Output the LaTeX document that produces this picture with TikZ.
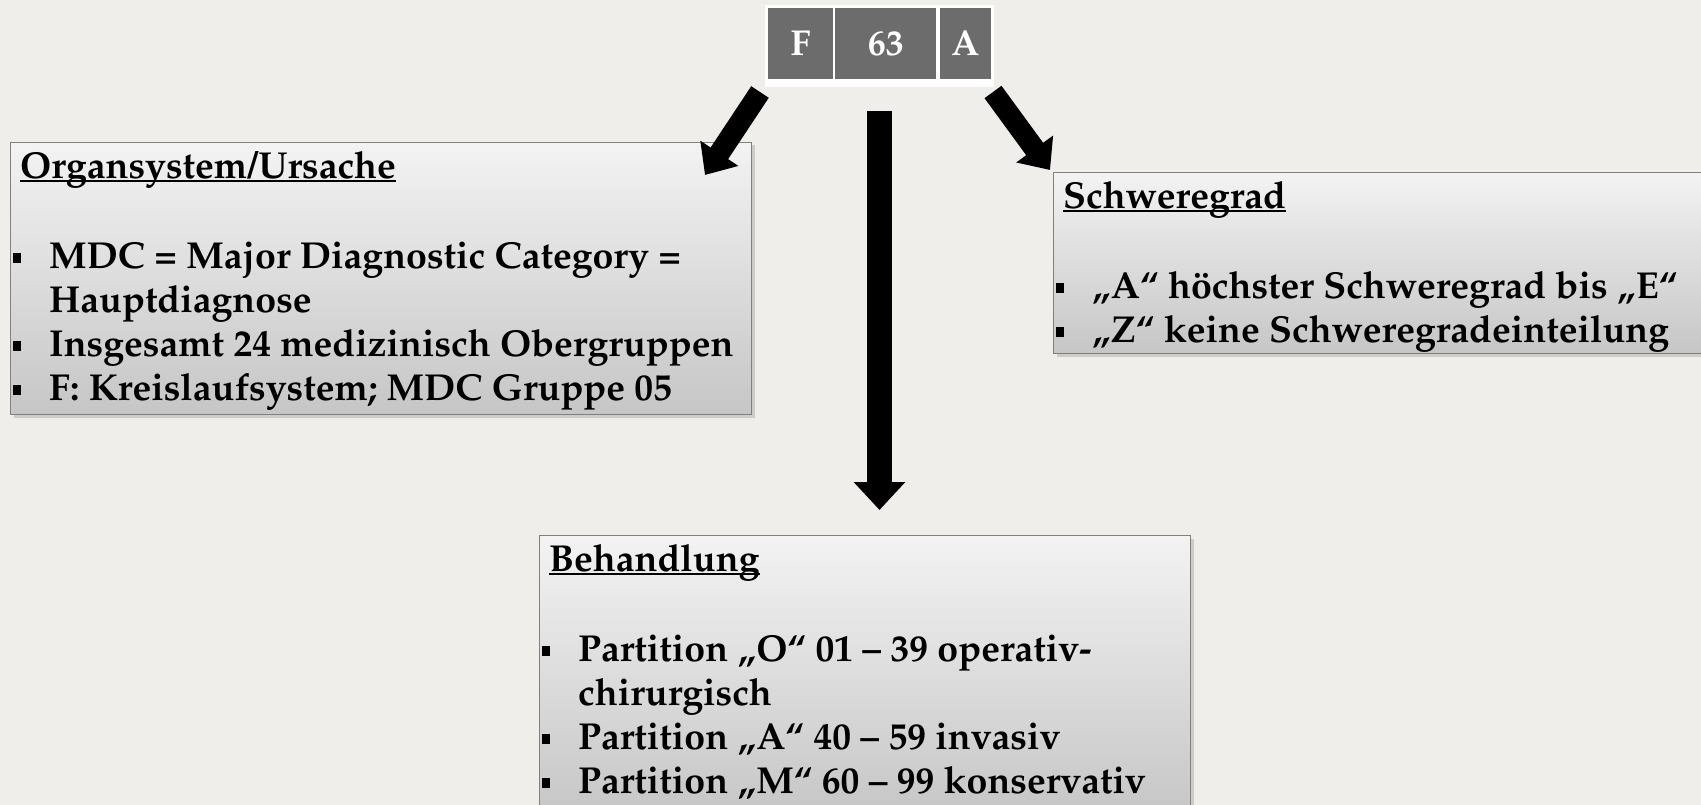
\documentclass[tikz,border=0pt]{standalone}
\usepackage[T1]{fontenc}
\usepackage{mathpazo}
\usetikzlibrary{positioning}
\usetikzlibrary{arrows.meta}
\usetikzlibrary{shadows}

\definecolor{bg}{RGB}{239,238,234}
\definecolor{cellgray}{RGB}{108,108,108}
\definecolor{boxtop}{RGB}{243,243,243}
\definecolor{boxbot}{RGB}{198,198,198}
\definecolor{boxline}{RGB}{128,128,128}

\newcommand{\bul}{\makebox[36pt][l]{\rule[5pt]{8pt}{10pt}}}
\newcommand{\ind}{\hspace*{36pt}}
\newcommand{\headline}[1]{\hspace*{7pt}\setbox0\hbox{#1}\rlap{\rule[-4pt]{\wd0}{2pt}}\box0\rule{0pt}{28pt}}
\newcommand{\q}[1]{\quotedblbase#1\textquotedblleft{}}

\begin{document}
\begin{tikzpicture}[x=1pt, y=-1pt,
	cell/.style={fill=cellgray, text=white, minimum height=71pt, inner sep=0pt, font=\bfseries\fontsize{36}{40}\selectfont},
	infobox/.style={draw=boxline, line width=1pt, top color=boxtop, bottom color=boxbot, anchor=north west, inner sep=0pt,
		drop shadow={shadow xshift=3pt, shadow yshift=-3pt, opacity=0.3}},
	txt/.style={align=left, inner sep=0pt, font=\bfseries\fontsize{37.5}{44}\selectfont},
	fatarrow/.style={line width=21pt, -{Triangle[width=44pt, length=26pt]}}]
	\path[use as bounding box, fill=bg] (0,0) rectangle (1701,805);
	\clip (0,0) rectangle (1701,805);

	\node[fill=white, anchor=north west, inner sep=0pt, minimum width=229pt, minimum height=82pt] (frame) at (765,5) {};
	\node[cell, minimum width=65pt] (mdc) at (800.5,43.5) {F};
	\node[cell, minimum width=101pt, right=2pt of mdc] (nr) {63};
	\node[cell, minimum width=51pt, right=3pt of nr] (sev) {A};

	\node[infobox, minimum width=741pt, minimum height=272pt] (org) at (10,142) {};
	\node[infobox, minimum width=660pt, minimum height=181pt] (grad) at (1053,172) {};
	\node[infobox, minimum width=651pt, minimum height=280pt] (beh) at (539,535) {};

	\node[txt, below right=8pt and 3pt of org.north west] (orgtext) {\headline{Organsystem/Ursache}\\[46pt]
		\bul MDC = Major Diagnostic Category =\\
		\ind Hauptdiagnose\\
		\bul Insgesamt 24 medizinisch Obergruppen\\
		\bul F: Kreislaufsystem; MDC Gruppe 05};
	\node[txt, below right=8pt and 3pt of grad.north west] (gradtext) {\headline{Schweregrad}\\[46pt]
		\bul \q{A} h\"ochster Schweregrad bis \q{E}\\
		\bul \q{Z} keine Schweregradeinteilung};
	\node[txt, below right=8pt and 3pt of beh.north west] (behtext) {\headline{Behandlung}\\[46pt]
		\bul Partition \q{O} 01 -- 39 operativ-\\
		\ind chirurgisch\\
		\bul Partition \q{A} 40 -- 59 invasiv\\
		\bul Partition \q{M} 60 -- 99 konservativ};

	\coordinate (ltail) at (760,92);
	\coordinate (ltip) at (705,175);
	\coordinate (mtail) at (879.5,111);
	\coordinate (mtip) at (879.5,510);
	\coordinate (rtail) at (993,92);
	\coordinate (rtip) at (1050,170);
	\draw[fatarrow] (ltail) -- (ltip);
	\draw[fatarrow, line width=25pt, -{Triangle[width=50pt, length=28pt]}] (mtail) -- (mtip);
	\draw[fatarrow] (rtail) -- (rtip);
\end{tikzpicture}
\end{document}
